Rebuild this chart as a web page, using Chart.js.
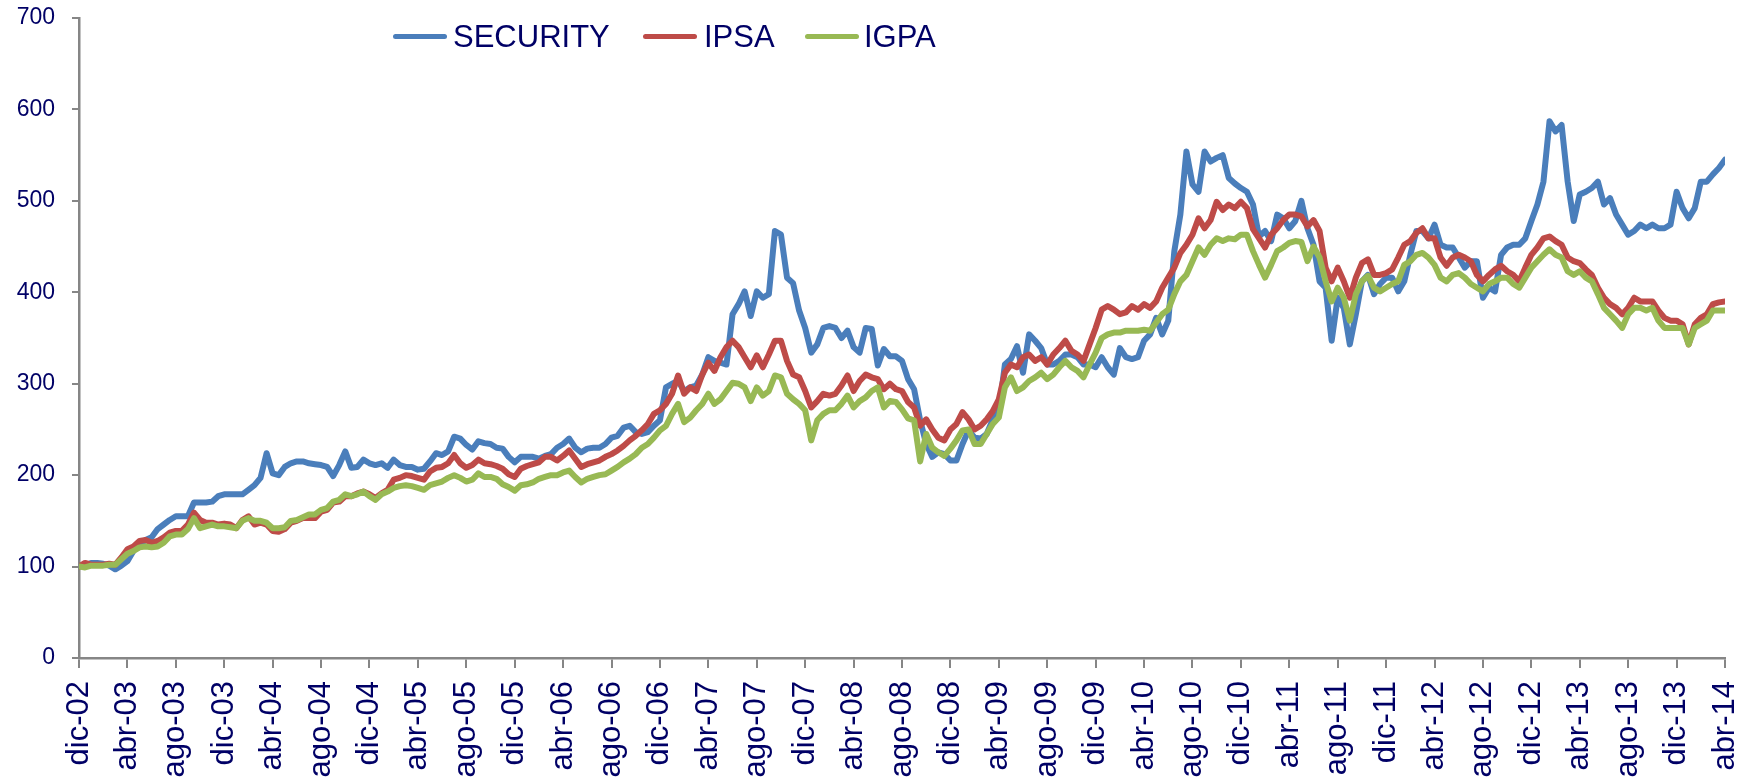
<!DOCTYPE html>
<html>
<head>
<meta charset="utf-8">
<script src="https://cdn.jsdelivr.net/npm/chart.js@4.4.1/dist/chart.umd.min.js"></script>
<style>
    body { margin: 0; background: #ffffff; }
    #wrap { position: relative; width: 1753px; height: 778px; overflow: hidden; }
    .leg-line { position: absolute; height: 5px; border-radius: 3px; top: 34px; width: 54px; }
    .leg-text { position: absolute; top: 21px; font: 31px 'Liberation Sans', Arial, sans-serif; line-height: 31px; color: #000066; white-space: nowrap; }
</style>
</head>
<body>
<div id="wrap">
    <canvas id="indexChart" width="1753" height="778"></canvas>
    <div class="leg-line" style="left:393px; background:#4A7EBB;"></div>
    <div class="leg-text" style="left:453px;">SECURITY</div>
    <div class="leg-line" style="left:643px; background:#BE4B48;"></div>
    <div class="leg-text" style="left:704px;">IPSA</div>
    <div class="leg-line" style="left:805px; background:#98B954;"></div>
    <div class="leg-text" style="left:864px;">IGPA</div>
</div>
<script>
// tick labels, one every 4 months starting dic-02
const tickLabels = ['dic-02', 'abr-03', 'ago-03', 'dic-03', 'abr-04', 'ago-04', 'dic-04', 'abr-05', 'ago-05',
    'dic-05', 'abr-06', 'ago-06', 'dic-06', 'abr-07', 'ago-07', 'dic-07', 'abr-08', 'ago-08', 'dic-08',
    'abr-09', 'ago-09', 'dic-09', 'abr-10', 'ago-10', 'dic-10', 'abr-11', 'ago-11', 'dic-11', 'abr-12',
    'ago-12', 'dic-12', 'abr-13', 'ago-13', 'dic-13', 'abr-14'];

// one reading every half month (months since dic-02)
const stepMonths = 0.5;

const security = [
    100, 101, 104, 104, 103, 101, 97, 101,
    106, 117, 124, 129, 132, 141, 146, 151,
    155, 155, 155, 170, 170, 170, 171, 177,
    179, 179, 179, 179, 184, 189, 197, 224,
    202, 200, 209, 213, 215, 215, 213, 212,
    211, 209, 199, 211, 226, 208, 209, 217,
    213, 211, 213, 208, 217, 211, 209, 209,
    206, 207, 215, 224, 222, 226, 242, 240,
    233, 228, 237, 235, 234, 230, 229, 220,
    214, 220, 220, 220, 218, 221, 223, 230,
    234, 240, 230, 225, 229, 230, 230, 234,
    241, 243, 252, 254, 247, 245, 247, 254,
    260, 296, 300, 303, 292, 296, 298, 310,
    329, 325, 323, 321, 376, 387, 401, 374,
    401, 394, 398, 467, 463, 416, 410, 380,
    361, 334, 343, 361, 363, 361, 350, 358,
    340, 334, 361, 360, 320, 338, 330, 330,
    325, 305, 294, 260, 234, 220, 225, 223,
    216, 216, 234, 249, 241, 240, 245, 261,
    269, 321, 327, 341, 312, 354, 347, 339,
    321, 321, 325, 332, 332, 329, 321, 321,
    318, 329, 318, 310, 339, 329, 327, 329,
    347, 354, 372, 354, 369, 445, 485, 554,
    518, 510, 554, 543, 547, 550, 525, 519,
    514, 510, 496, 461, 467, 456, 485, 481,
    470, 478, 500, 470, 452, 412, 405, 347,
    394, 383, 343, 376, 412, 419, 398, 409,
    416, 416, 401, 412, 441, 467, 467, 459,
    474, 452, 449, 449, 438, 427, 434, 434,
    394, 405, 401, 441, 449, 452, 452, 459,
    478, 496, 521, 587, 576, 583, 521, 478,
    507, 510, 514, 521, 496, 503, 485, 474,
    463, 467, 474, 470, 474, 470, 470, 474,
    510, 492, 481, 492, 521, 521, 529, 536,
    545
];

const ipsa = [
    100, 104, 102, 102, 102, 103, 102, 110,
    119, 122, 128, 129, 126, 128, 132, 137,
    139, 139, 146, 159, 151, 148, 148, 146,
    147, 146, 142, 151, 155, 146, 148, 146,
    139, 138, 141, 148, 150, 153, 153, 153,
    160, 162, 170, 171, 177, 177, 180, 182,
    179, 175, 180, 184, 195, 197, 200, 199,
    197, 195, 204, 208, 209, 213, 222, 213,
    208, 211, 217, 213, 212, 210, 207, 201,
    198, 207, 210, 212, 214, 220, 220, 216,
    221, 227, 218, 209, 212, 214, 216, 220,
    223, 227, 232, 238, 243, 249, 256, 267,
    271, 278, 289, 309, 289, 296, 292, 310,
    323, 314, 329, 340, 347, 340, 329, 318,
    331, 318, 332, 347, 347, 325, 310, 307,
    292, 274, 281, 289, 287, 289, 298, 309,
    292, 303, 310, 307, 305, 294, 300, 294,
    292, 280, 274, 254, 261, 250, 241, 238,
    250, 256, 269, 261, 250, 254, 261, 270,
    283, 312, 321, 318, 329, 332, 325, 329,
    321, 332, 339, 347, 336, 332, 325, 343,
    361, 381, 385, 381, 376, 378, 385, 381,
    387, 383, 390, 405, 416, 427, 443, 452,
    463, 481, 470, 479, 499, 490, 496, 492,
    499, 492, 469, 459, 449, 463, 470, 479,
    485, 485, 483, 472, 479, 467, 427, 412,
    427, 412, 394, 416, 432, 436, 419, 419,
    421, 425, 438, 452, 456, 465, 470, 459,
    459, 438, 429, 438, 441, 438, 434, 419,
    412, 419, 425, 429, 423, 419, 412, 427,
    441, 449, 459, 461, 456, 452, 438, 434,
    432, 425, 419, 405, 394, 387, 383, 376,
    383, 394, 390, 390, 390, 380, 372, 369,
    369, 365, 343, 365, 372, 376, 387, 389,
    390
];

const igpa = [
    100, 99, 101, 101, 101, 102, 102, 108,
    114, 117, 121, 122, 121, 122, 126, 133,
    135, 135, 141, 153, 142, 144, 146, 144,
    144, 143, 142, 150, 153, 150, 150, 148,
    142, 142, 143, 150, 151, 154, 157, 157,
    162, 164, 171, 173, 179, 177, 179, 182,
    177, 173, 179, 182, 186, 188, 189, 188,
    186, 184, 189, 191, 193, 197, 200, 197,
    193, 195, 202, 198, 198, 196, 190, 187,
    183, 189, 190, 192, 196, 198, 200, 200,
    203, 205, 198, 192, 196, 198, 200, 201,
    205, 209, 214, 218, 223, 230, 234, 241,
    249, 254, 267, 278, 258, 263, 271, 278,
    289, 278, 283, 292, 301, 300, 296, 281,
    296, 287, 292, 309, 307, 289, 283, 278,
    271, 238, 260, 267, 271, 271, 278, 287,
    274, 281, 285, 292, 296, 274, 281, 280,
    272, 262, 260, 215, 245, 230, 225, 221,
    229, 238, 249, 250, 234, 234, 245, 256,
    263, 296, 307, 292, 296, 303, 307, 312,
    305, 310, 318, 325, 318, 314, 307, 321,
    334, 350, 354, 356, 356, 358, 358, 358,
    359, 358, 367, 376, 381, 398, 412, 419,
    434, 449, 441, 452, 459, 456, 459, 458,
    463, 463, 445, 430, 416, 430, 445, 449,
    454, 456, 455, 434, 450, 438, 412, 390,
    405, 394, 369, 398, 412, 418, 405, 401,
    405, 409, 412, 430, 434, 441, 443, 438,
    430, 416, 412, 419, 421, 416, 409, 405,
    401, 409, 412, 416, 416, 409, 405, 416,
    427, 434, 441, 447, 441, 438, 423, 419,
    423, 416, 412, 398, 383, 376, 369, 361,
    376, 383, 383, 380, 383, 369, 361, 361,
    361, 361, 343, 361, 365, 369, 380, 380,
    380
];

const textColor = '#000066';
const axisColor = '#868686';
const fontFamily = "'Liberation Sans', Arial, sans-serif";

function toPoints(values) {
    return values.map((v, i) => ({ x: i * stepMonths, y: v }));
}

function lineSet(label, values, color, order) {
    return {
        label: label,
        data: toPoints(values),
        borderColor: color,
        backgroundColor: color,
        borderWidth: 6,
        pointRadius: 0,
        tension: 0,
        borderJoinStyle: 'round',
        borderCapStyle: 'round',
        fill: false,
        order: order
    };
}

const ctx = document.getElementById('indexChart').getContext('2d');
new Chart(ctx, {
    type: 'line',
    data: {
        datasets: [
            lineSet('SECURITY', security, '#4A7EBB', 3),
            lineSet('IPSA', ipsa, '#BE4B48', 2),
            lineSet('IGPA', igpa, '#98B954', 1)
        ]
    },
    options: {
        responsive: false,
        animation: false,
        layout: { padding: { top: 18, right: 28, left: 0, bottom: 0 } },
        plugins: {
            legend: { display: false },
            tooltip: { enabled: false }
        },
        scales: {
            x: {
                type: 'linear',
                min: 0,
                max: (tickLabels.length - 1) * 4,
                afterFit: (scale) => {
                    scale.height = 120;
                    scale.paddingLeft = 0;
                    scale.paddingRight = 0;
                },
                grid: { drawOnChartArea: false, drawTicks: true, tickLength: 10, color: axisColor, lineWidth: 2 },
                border: { display: true, color: axisColor, width: 2.5 },
                ticks: {
                    stepSize: 4,
                    autoSkip: false,
                    maxRotation: 90,
                    minRotation: 90,
                    padding: 13,
                    color: textColor,
                    font: { family: fontFamily, size: 31 },
                    callback: (value) => tickLabels[Math.round(value / 4)]
                }
            },
            y: {
                min: 0,
                max: 700,
                afterFit: (scale) => {
                    scale.width = 79;
                    scale.paddingTop = 0;
                    scale.paddingBottom = 0;
                },
                grid: { drawOnChartArea: false, drawTicks: true, tickLength: 7, color: axisColor, lineWidth: 2 },
                border: { display: true, color: axisColor, width: 2.5 },
                ticks: {
                    stepSize: 100,
                    padding: 17,
                    color: textColor,
                    font: { family: fontFamily, size: 23 }
                }
            }
        }
    }
});
</script>
</body>
</html>
